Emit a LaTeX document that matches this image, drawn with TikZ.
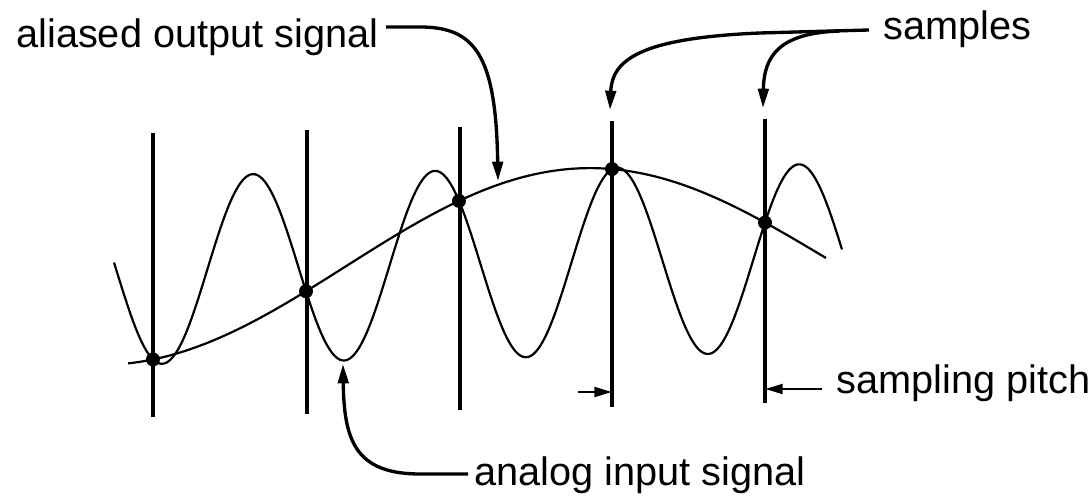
\documentclass[tikz,border=0pt]{standalone}
\usepackage{fontspec}
\setmainfont{Liberation Sans}
\usetikzlibrary{arrows.meta,calc}
\begin{document}
\begin{tikzpicture}[x=0.02cm,y=-0.02cm,
  declare function={cc(\t)=265.5-0.018*(\t-400);
                    sigA(\t)=cc(\t)+94*cos(1.978022*(\t-162));
                    sigB(\t)=cc(\t)+94*cos(-17.8-(\t-153)*0.3749);},
  lbl/.style={font=\fontsize{22.6}{27}\selectfont, inner sep=0pt, anchor=base west},
  sampleline/.style={line width=2.1pt},
  wave/.style={line width=1.25pt},
  dot/.style={circle, fill=black, inner sep=0pt, minimum size=0.28cm},
  ptr/.style={line width=1.9pt, -{Triangle[length=11pt,width=6pt]}},
  pitch/.style={line width=1.6pt, -{Triangle[length=10pt,width=5.5pt]}}]
\useasboundingbox[fill=white] (0,0) rectangle (1090,496);

% sample lines
\coordinate (t1) at (153,133); \coordinate (b1) at (153,417);
\coordinate (t2) at (307,130); \coordinate (b2) at (307,414);
\coordinate (t3) at (460,127); \coordinate (b3) at (460,410);
\coordinate (t4) at (612,121); \coordinate (b4) at (612,407);
\coordinate (t5) at (765,119); \coordinate (b5) at (765,403);
\foreach \i in {1,...,5} {\draw[sampleline] (t\i) -- (b\i);}

% signals
\draw[wave] plot[domain=114:842, samples=400, smooth] (\x,{sigA(\x)});
\draw[wave] plot[domain=128:826, samples=200, smooth] (\x,{sigB(\x)});

% sample dots
\node[dot] (d1) at (153,{sigB(153)}) {};
\node[dot] (d2) at (306,{sigB(306)}) {};
\node[dot] (d3) at (459,{sigB(459)}) {};
\node[dot] (d4) at (612,{sigB(612)}) {};
\node[dot] (d5) at (765,{sigB(765)}) {};

% labels
\node[lbl] (aliased) at (16,48) {aliased output signal};
\node[lbl] (samples) at (883,40) {samples};
\node[lbl] (pitchlbl) at (836,394) {sampling pitch};
\node[lbl] (analog) at (474,486) {analog input signal};

% leader coordinates
\coordinate (alS) at (386,27);
\coordinate (alT) at (498,181);
\coordinate (saS) at (869,30);
\coordinate (saB) at (840,31);
\coordinate (sa4) at (610,110);
\coordinate (sa5) at (763,108);
\coordinate (anS) at (468,474);
\coordinate (anT) at (343,364);
\coordinate (p4S) at (578,392);
\coordinate (p4T) at (612,392);
\coordinate (p5S) at (822,389);
\coordinate (p5T) at (765,389);

\draw[ptr] (alS) -- (420,27) .. controls (475,27) and (496,55) .. (alT);
\draw[ptr] (saS) -- (760,33) .. controls (640,38) and (612,60) .. (sa4);
\draw[ptr] (saB) .. controls (780,33) and (764,55) .. (sa5);
\draw[ptr] (anS) -- (420,474) .. controls (355,474) and (344,440) .. (anT);
\draw[pitch] (p4S) -- (p4T);
\draw[pitch] (p5S) -- (p5T);
\end{tikzpicture}
\end{document}
